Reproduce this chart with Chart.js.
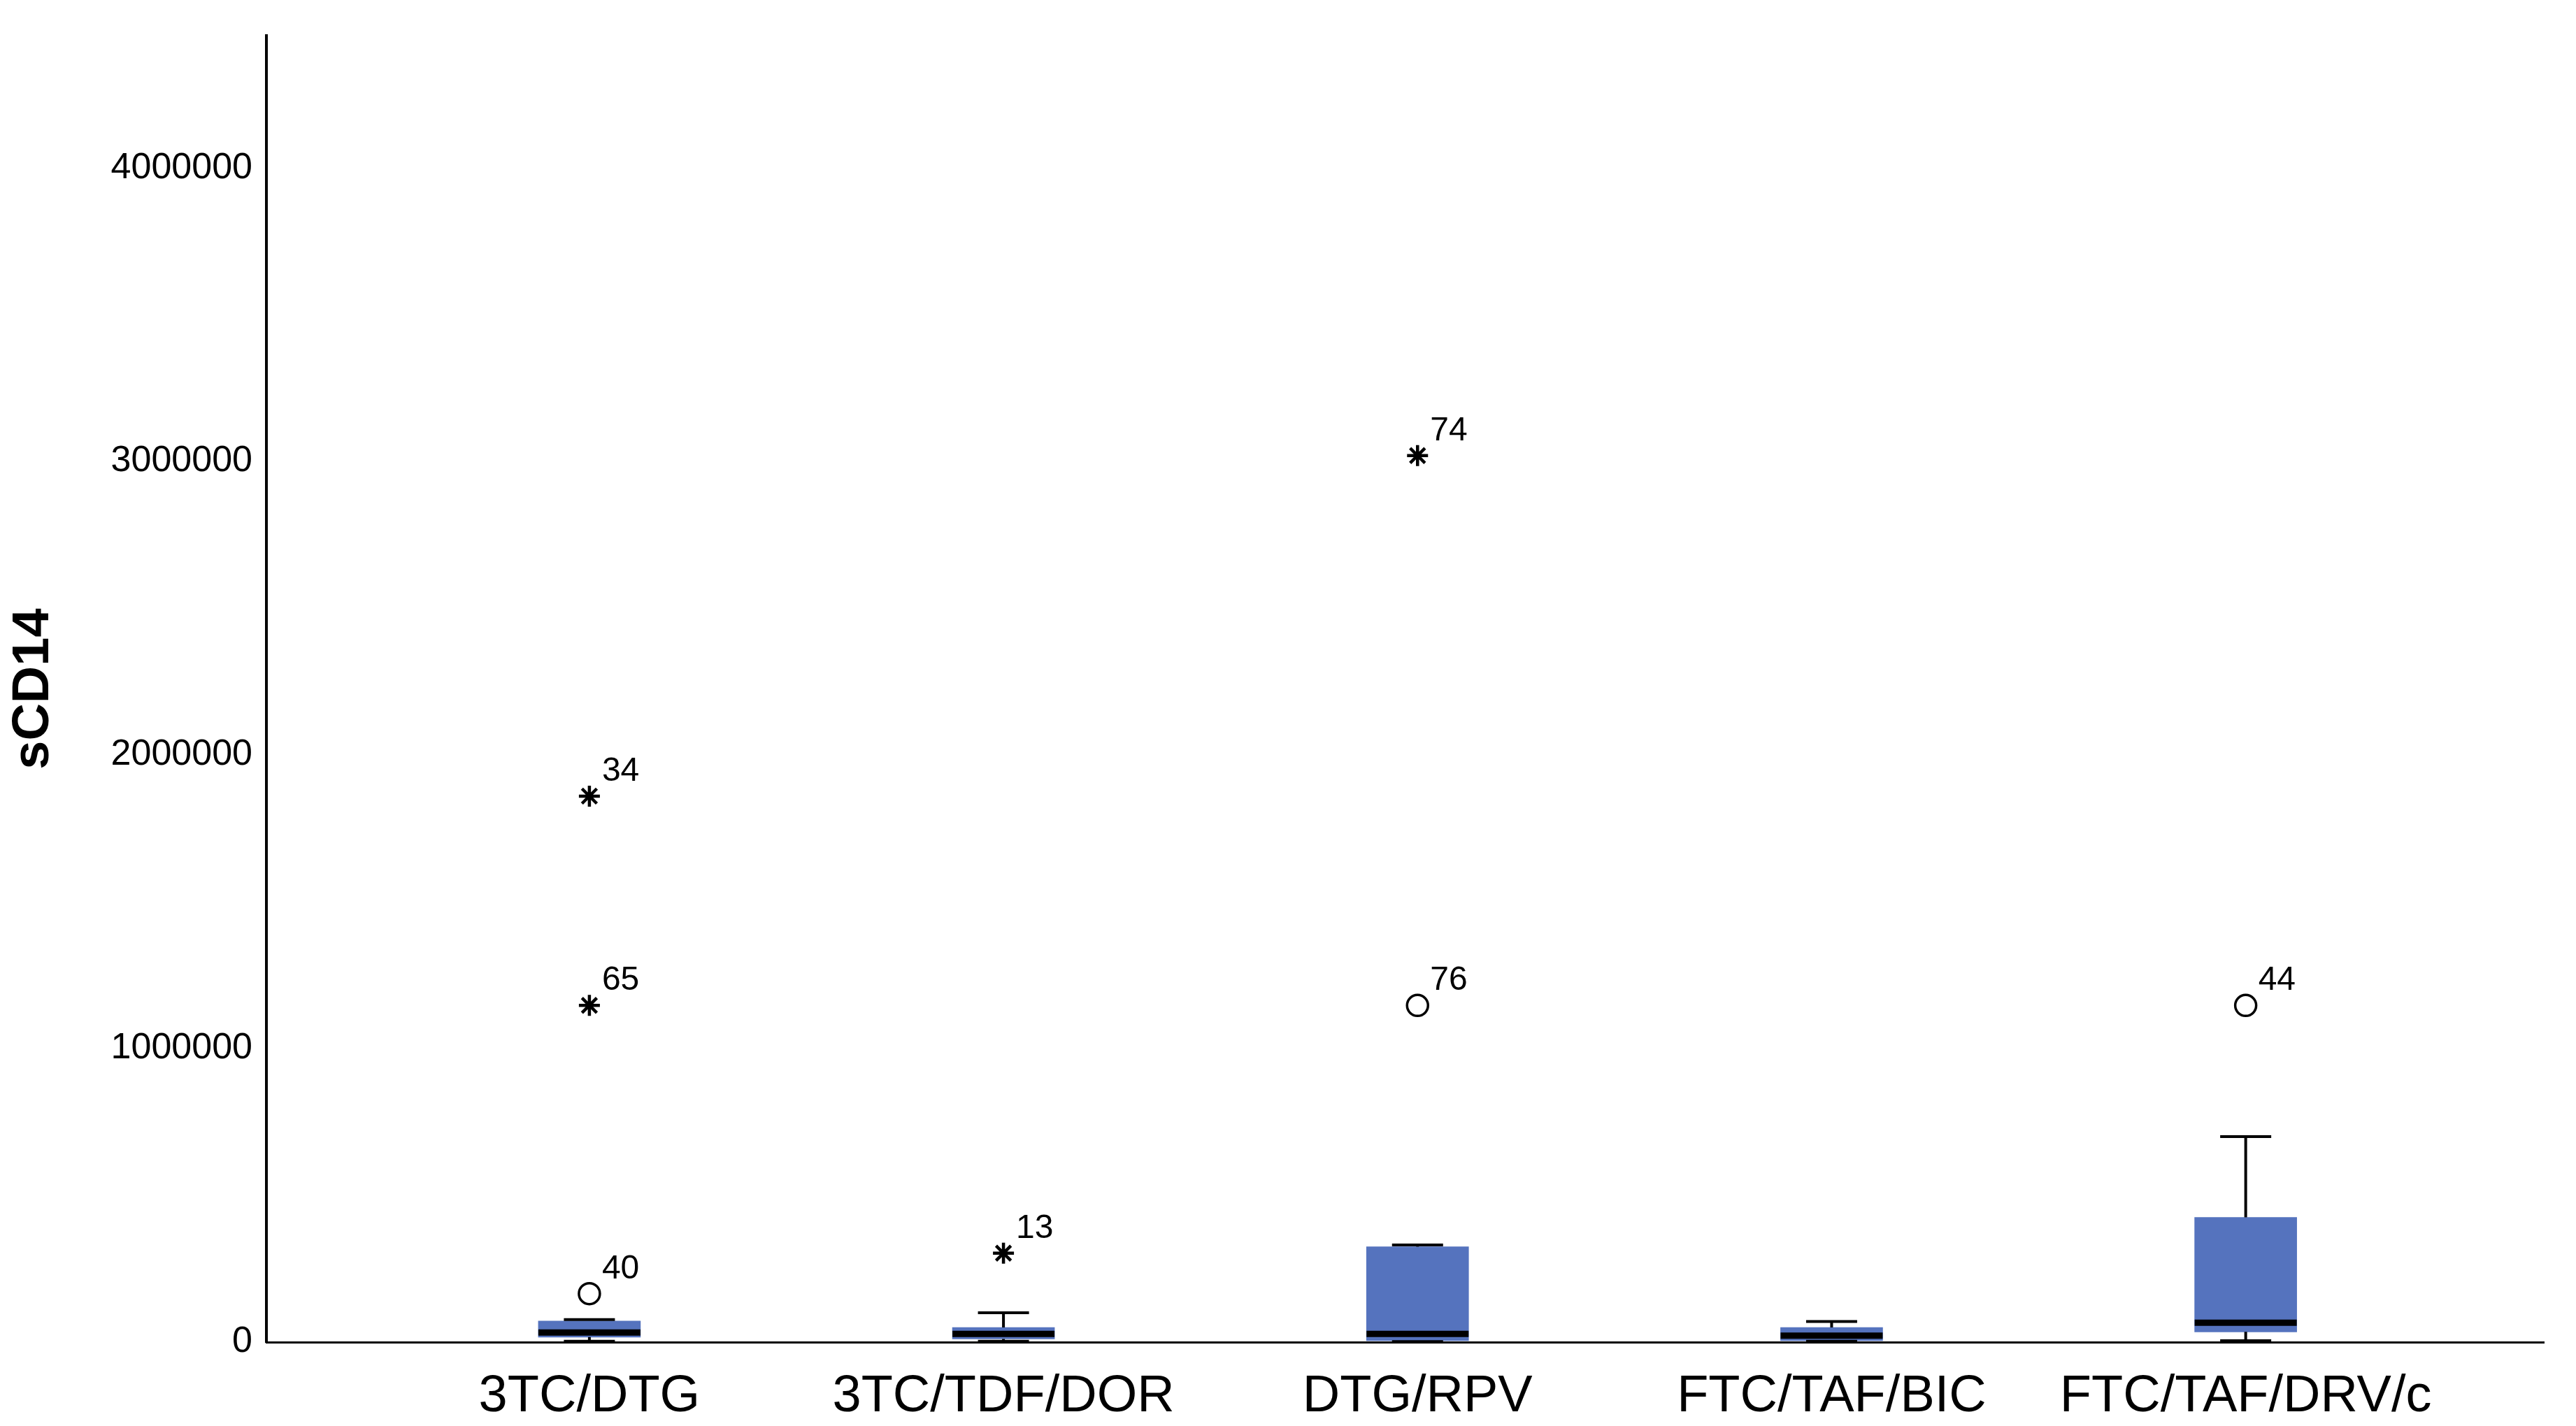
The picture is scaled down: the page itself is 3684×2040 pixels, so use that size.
<!DOCTYPE html>
<html><head><meta charset="utf-8">
<script src="https://cdn.jsdelivr.net/npm/chart.js@4"></script>
<style>html,body{margin:0;padding:0;background:#fff}canvas{display:block}</style>
</head><body>
<div style="width:3684px;height:2040px"><canvas id="c"></canvas></div>
<script>
const categories = ["3TC/DTG","3TC/TDF/DOR","DTG/RPV","FTC/TAF/BIC","FTC/TAF/DRV/c"];
const whiskerLow = [3000, 3000, 2000, 3000, 5000];
const q1 = [17000, 11000, 5000, 5000, 35000];
const median = [33000, 28000, 28000, 22000, 66000];
const q3 = [72000, 50000, 325000, 50000, 425000];
const whiskerHigh = [77000, 100000, 331000, 70000, 700000];
// outliers: [categoryIndex, value, caseLabel]
const circleOutliers = [[0,165000,"40"],[2,1147000,"76"],[4,1147000,"44"]];
const starOutliers = [[0,1147000,"65"],[0,1860000,"34"],[1,303000,"13"],[2,3020000,"74"]];
const yTicks = [0,1000000,2000000,3000000,4000000];

const FONT = "'Liberation Sans', Arial, sans-serif";
const boxPlugin = {
  id:'boxParts',
  afterDatasetsDraw(chart){
    const {ctx, scales:{x,y}} = chart;
    const w = 146;
    ctx.save();
    categories.forEach((c,i)=>{
      const cx = x.getPixelForValue(i);
      ctx.strokeStyle='#000';
      ctx.lineWidth=4;
      ctx.beginPath();
      ctx.moveTo(cx,y.getPixelForValue(q3[i])); ctx.lineTo(cx,y.getPixelForValue(whiskerHigh[i]));
      ctx.moveTo(cx,y.getPixelForValue(q1[i])); ctx.lineTo(cx,y.getPixelForValue(whiskerLow[i]));
      ctx.moveTo(cx-w/4,y.getPixelForValue(whiskerHigh[i])); ctx.lineTo(cx+w/4,y.getPixelForValue(whiskerHigh[i]));
      ctx.moveTo(cx-w/4,y.getPixelForValue(whiskerLow[i])); ctx.lineTo(cx+w/4,y.getPixelForValue(whiskerLow[i]));
      ctx.stroke();
      ctx.lineWidth=9;
      ctx.beginPath();
      ctx.moveTo(cx-w/2,y.getPixelForValue(median[i])); ctx.lineTo(cx+w/2,y.getPixelForValue(median[i]));
      ctx.stroke();
    });
    ctx.fillStyle='#000';
    ctx.font='48px '+FONT;
    ctx.textBaseline='alphabetic';
    [...circleOutliers,...starOutliers].forEach(o=>{
      const px = x.getPixelForValue(o[0]), py = y.getPixelForValue(o[1]);
      ctx.fillText(o[2], px+18, py-22);
    });
    ctx.restore();
  }
};

new Chart(document.getElementById('c'),{
  type:'bar',
  data:{datasets:[
    {type:'bar',data:q1.map((v,i)=>({x:i,y:[v,q3[i]]})),backgroundColor:'#5573BE',borderWidth:0,barThickness:146},
    {type:'scatter',data:circleOutliers.map(o=>({x:o[0],y:o[1]})),pointStyle:'circle',pointRadius:15,borderColor:'#000',borderWidth:3.5,backgroundColor:'#fff'},
    {type:'scatter',data:starOutliers.map(o=>({x:o[0],y:o[1]})),pointStyle:'star',pointRadius:15,borderColor:'#000',borderWidth:4.5,backgroundColor:'#000'}
  ]},
  options:{
    responsive:true,maintainAspectRatio:false,animation:false,
    layout:{padding:{top:0,right:46,bottom:0,left:0}},
    plugins:{legend:{display:false},tooltip:{enabled:false}},
    scales:{
      x:{type:'linear',min:-0.78,max:4.72,offset:false,grid:{display:false,drawTicks:false},border:{display:true,color:'#000',width:3},
        afterBuildTicks(s){s.ticks=categories.map((c,i)=>({value:i}));},
        ticks:{color:'#000',font:{family:FONT,size:74},padding:34,maxRotation:0,autoSkip:false,callback:(v)=>categories[v]},
        afterFit(s){s.height=120;}},
      y:{min:0,max:4450000,grid:{display:false,drawTicks:false},border:{display:true,color:'#000',width:4},
        afterBuildTicks(s){s.ticks=yTicks.map(v=>({value:v}));},
        ticks:{color:'#000',font:{family:FONT,size:52},padding:20,callback:v=>String(v)},
        title:{display:true,text:'sCD14',color:'#000',font:{family:FONT,size:74,weight:'bold'},padding:{bottom:40}},
        afterFit(s){s.width=381;}}
    }
  },
  plugins:[boxPlugin]
});
</script>
</body></html>
